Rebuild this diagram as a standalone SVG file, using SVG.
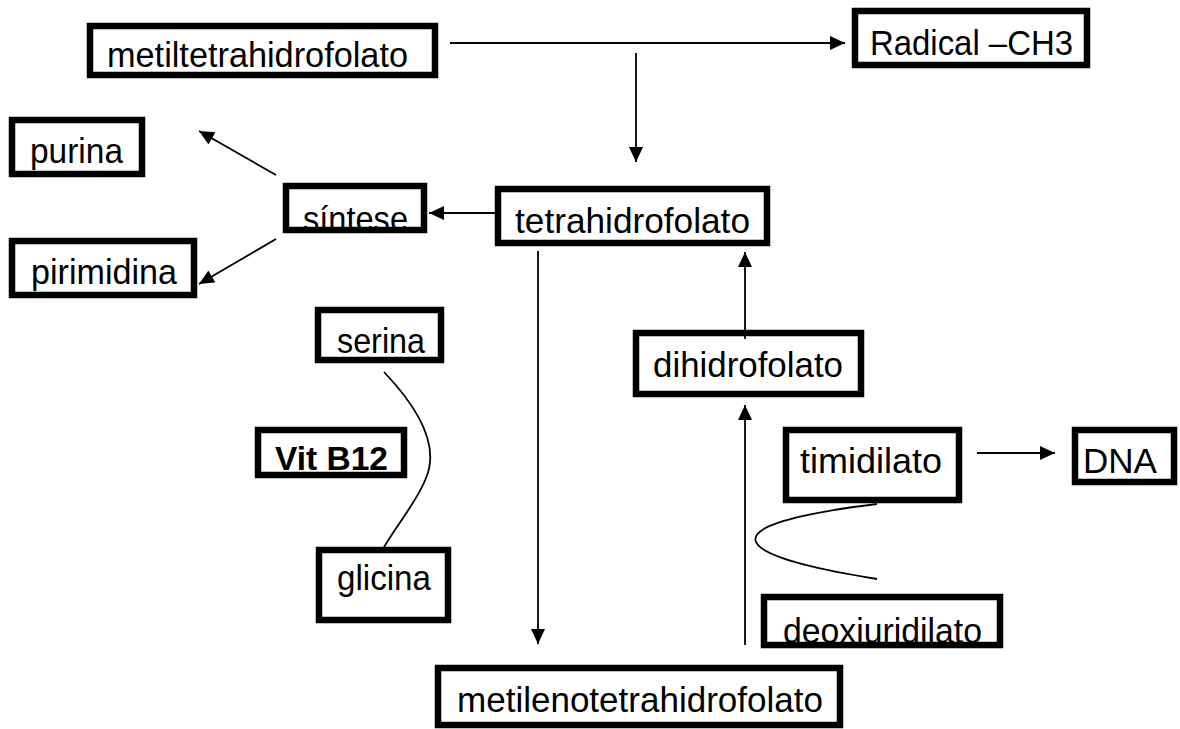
<svg xmlns="http://www.w3.org/2000/svg" width="1180" height="729" viewBox="0 0 1180 729">
  <style>
    .box { fill: none; stroke: #000; stroke-width: 6.5; }
    .lbl { font-family: "Liberation Sans", Arial, sans-serif; font-size: 35px; fill: #000; }
    .bold { font-weight: bold; font-size: 33px; }
    .edge { fill: none; stroke: #000; stroke-width: 1.8; }
  </style>
  <defs>
    <marker id="arrow" markerUnits="userSpaceOnUse" markerWidth="16" markerHeight="15" refX="15" refY="7" orient="auto">
      <path d="M0,0 L15,7 L0,14 z" fill="#000"/>
    </marker>
  </defs>
  <rect width="1180" height="729" fill="#fff"/>

  <g id="connectors">
    <line class="edge" x1="450" y1="43" x2="845" y2="43" marker-end="url(#arrow)"/>
    <line class="edge" x1="636" y1="53" x2="636" y2="162" marker-end="url(#arrow)"/>
    <line class="edge" x1="497" y1="213" x2="429" y2="213" marker-end="url(#arrow)"/>
    <line class="edge" x1="276" y1="175" x2="199" y2="131" marker-end="url(#arrow)"/>
    <line class="edge" x1="276" y1="239" x2="199" y2="284" marker-end="url(#arrow)"/>
    <line class="edge" x1="538" y1="251" x2="538" y2="644" marker-end="url(#arrow)"/>
    <line class="edge" x1="745" y1="339" x2="745" y2="252" marker-end="url(#arrow)"/>
    <line class="edge" x1="745" y1="645" x2="745" y2="405" marker-end="url(#arrow)"/>
    <line class="edge" x1="977" y1="453" x2="1055" y2="453" marker-end="url(#arrow)"/>
    <path class="edge" d="M384,372 C425,415 438,450 426,478 C418,500 400,520 384,547"/>
    <path class="edge" d="M877,504 C705,525 725,555 877,579"/>
  </g>

  <g id="metiltetrahidrofolato">
    <text class="lbl" x="107" y="67" textLength="301" lengthAdjust="spacingAndGlyphs">metiltetrahidrofolato</text>
    <rect class="box" x="90" y="26" width="345" height="49"/>
  </g>
  <g id="radical-ch3">
    <text class="lbl" x="870" y="55" textLength="203" lengthAdjust="spacingAndGlyphs">Radical –CH3</text>
    <rect class="box" x="855" y="11" width="232" height="54"/>
  </g>
  <g id="purina">
    <text class="lbl" x="30" y="163" textLength="93" lengthAdjust="spacingAndGlyphs">purina</text>
    <rect class="box" x="12" y="120" width="130" height="54"/>
  </g>
  <g id="pirimidina">
    <text class="lbl" x="31" y="284" textLength="146" lengthAdjust="spacingAndGlyphs">pirimidina</text>
    <rect class="box" x="12" y="241" width="182" height="54"/>
  </g>
  <g id="sintese">
    <text class="lbl" x="303" y="231" textLength="105" lengthAdjust="spacingAndGlyphs">síntese</text>
    <rect class="box" x="286" y="186" width="138" height="44"/>
  </g>
  <g id="tetrahidrofolato">
    <text class="lbl" x="515" y="233" textLength="235" lengthAdjust="spacingAndGlyphs">tetrahidrofolato</text>
    <rect class="box" x="498" y="189" width="269" height="54"/>
  </g>
  <g id="serina">
    <text class="lbl" x="337" y="353" textLength="88" lengthAdjust="spacingAndGlyphs">serina</text>
    <rect class="box" x="318" y="310" width="123" height="50"/>
  </g>
  <g id="vit-b12">
    <text class="lbl bold" x="275" y="470" textLength="113" lengthAdjust="spacingAndGlyphs">Vit B12</text>
    <rect class="box" x="258" y="430" width="146" height="45"/>
  </g>
  <g id="glicina">
    <text class="lbl" x="337" y="590" textLength="94" lengthAdjust="spacingAndGlyphs">glicina</text>
    <rect class="box" x="319" y="550" width="129" height="70"/>
  </g>
  <g id="dihidrofolato">
    <text class="lbl" x="653" y="377" textLength="190" lengthAdjust="spacingAndGlyphs">dihidrofolato</text>
    <rect class="box" x="636" y="333" width="225" height="61"/>
  </g>
  <g id="timidilato">
    <text class="lbl" x="800" y="473" textLength="142" lengthAdjust="spacingAndGlyphs">timidilato</text>
    <rect class="box" x="786" y="430" width="173" height="70"/>
  </g>
  <g id="dna">
    <text class="lbl" x="1083" y="473" textLength="74" lengthAdjust="spacingAndGlyphs">DNA</text>
    <rect class="box" x="1075" y="430" width="99" height="52"/>
  </g>
  <g id="deoxiuridilato">
    <text class="lbl" x="783" y="643" textLength="199" lengthAdjust="spacingAndGlyphs">deoxiuridilato</text>
    <rect class="box" x="764" y="597" width="236" height="48"/>
  </g>
  <g id="metilenotetrahidrofolato">
    <text class="lbl" x="457" y="712" textLength="366" lengthAdjust="spacingAndGlyphs">metilenotetrahidrofolato</text>
    <rect class="box" x="438" y="668" width="402" height="57"/>
  </g>
</svg>
